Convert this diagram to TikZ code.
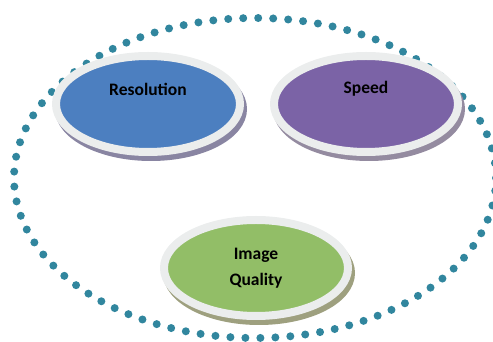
\documentclass[tikz,border=0pt]{standalone}
\usepackage{fontspec}
\setmainfont{Carlito}
\usepackage{tikz}
\usetikzlibrary{shapes.geometric,shadows}

\definecolor{dotteal}{HTML}{31869E}
\definecolor{ringgray}{HTML}{EBEDED}
\definecolor{resblue}{HTML}{4C7FC0}
\definecolor{spdpurple}{HTML}{7B63A6}
\definecolor{iqgreen}{HTML}{92BE67}
\definecolor{resshadow}{HTML}{8985A2}
\definecolor{spdshadow}{HTML}{948BA0}
\definecolor{iqshadow}{HTML}{9EA07F}

\begin{document}
\begin{tikzpicture}[x=1pt,y=1pt,
        bubble/.style={ellipse, draw=ringgray, line width=8pt,
            minimum width=184pt, minimum height=96pt, inner sep=0pt},
        bubshadow/.style={general shadow={fill=#1, draw=#1, line width=8pt,
            shadow xshift=3pt, shadow yshift=-5pt}},
        lbl/.style={font=\bfseries\fontsize{17.5}{26}\selectfont, align=center, text=black}]
        \useasboundingbox (0,0) rectangle (493,342);
        \clip (0,0) rectangle (493,342);
        \def\Ring{(255,164) ellipse (241 and 160)}

        % dotted frame
        \draw[dotteal, line width=8pt, line cap=round, dash pattern=on 0pt off 15pt] \Ring;

        % the three bubbles
        \node[bubble, bubshadow=resshadow, fill=resblue] (res) at (148,238) {};
        \node[bubble, bubshadow=spdshadow, fill=spdpurple] (spd) at (366,238) {};
        \node[bubble, bubshadow=iqshadow, fill=iqgreen] (iq) at (256,74) {};

        \node[lbl] (reslbl) at ([yshift=15pt]res.center) {Resolution};
        \node[lbl] (spdlbl) at ([yshift=15pt]spd.center) {Speed};
        \node[lbl] (iqlbl) at (iq.center) {Image\\Quality};
    \end{tikzpicture}
\end{document}
